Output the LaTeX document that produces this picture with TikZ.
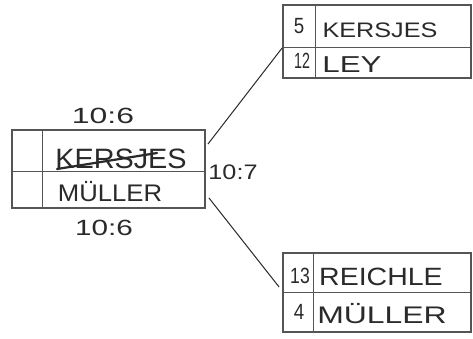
\documentclass[tikz,border=0pt]{standalone}
\usepackage{fontspec}
\usepackage{graphicx}
\usetikzlibrary{calc}
\setmainfont{Liberation Sans}
\definecolor{pencil}{HTML}{2A2A2A}
\definecolor{boxline}{HTML}{555555}
\newcommand{\hw}[3]{\fontsize{#1}{#1}\selectfont\scalebox{#2}[1]{#3}}
\begin{document}
\begin{tikzpicture}[x=1pt,y=-1pt,
  record/.style={draw=boxline, line width=1.8pt, rectangle, inner sep=0pt},
  divider/.style={draw=boxline, line width=1pt},
  link/.style={draw=pencil, line width=1pt},
  hand/.style={text=pencil, inner sep=0pt, anchor=center}]
\fill[white] (0,0) rectangle (473,338);
\useasboundingbox (0,0) rectangle (473,338);

% left record
\node[record, minimum width=193pt, minimum height=78pt] (L) at (108.5,169) {};
\draw[divider] (42,130) -- (42,208);
\draw[divider] (12,171) -- (205,171);
\node[hand] (Lk) at (121,159) {\hw{28}{1.03}{KERSJES}};
\draw[pencil, line width=2.2pt, line cap=round] (57,169) -- (157,153);
\node[hand] (Lm) at (110,192) {\hw{24}{1.07}{MÜLLER}};
\node[hand] (n1) at (103,116) {\hw{22}{1.45}{10:6}};
\node[hand] (n2) at (233,172) {\hw{21}{1.2}{10:7}};
\node[hand] (n3) at (104,228) {\hw{22}{1.35}{10:6}};

% top right record
\node[record, minimum width=188pt, minimum height=73pt] (T) at (377,41.5) {};
\draw[divider] (315,5) -- (315,78);
\draw[divider] (283,47) -- (471,47);
\node[hand] (T5) at (299,26) {\hw{22}{0.85}{5}};
\node[hand] (Tk) at (380,30) {\hw{21}{1.2}{KERSJES}};
\node[hand] (T12) at (302,61) {\hw{22}{0.65}{12}};
\node[hand] (Tl) at (352,65) {\hw{23}{1.36}{LEY}};

% bottom right record
\node[record, minimum width=188pt, minimum height=79pt] (B) at (377,292.5) {};
\draw[divider] (313,253) -- (313,332);
\draw[divider] (283,292) -- (471,292);
\node[hand] (B13) at (300,276) {\hw{22}{0.8}{13}};
\node[hand] (Br) at (381,277) {\hw{25}{1.14}{REICHLE}};
\node[hand] (B4) at (299,312) {\hw{22}{0.85}{4}};
\node[hand] (Bm) at (382,314) {\hw{24}{1.33}{MÜLLER}};

% connectors
\coordinate (La) at ($(L.north east)+(2,15)$);
\coordinate (Lb) at ($(L.south east)+(3,-11)$);
\coordinate (Ta) at ($(T.west)+(0,6.5)$);
\coordinate (Ba) at ($(B.west)+(-3,-5.5)$);
\draw[link] (La) -- (Ta);
\draw[link] (Lb) -- (Ba);
\end{tikzpicture}
\end{document}
